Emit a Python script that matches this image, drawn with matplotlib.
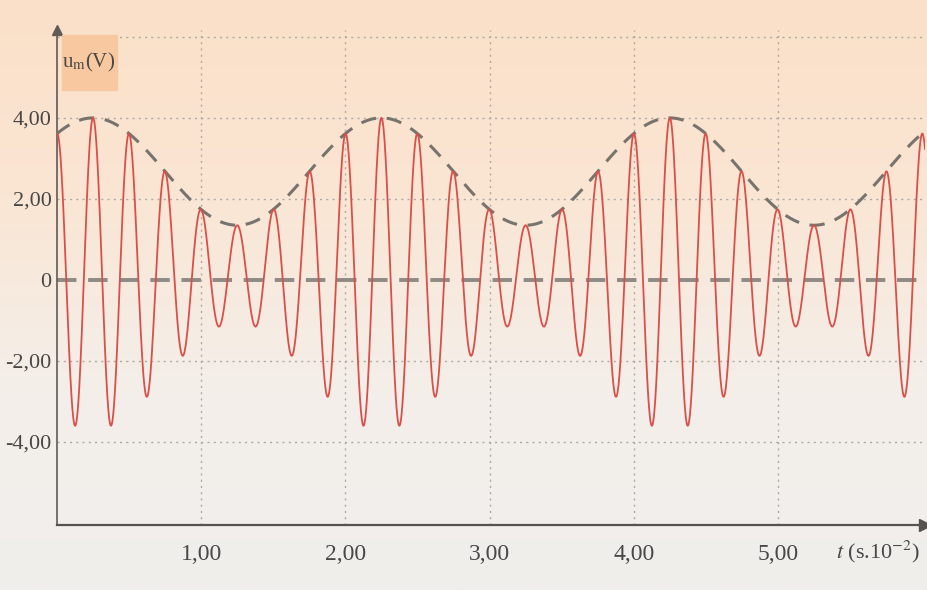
import numpy as np
import matplotlib
matplotlib.use('Agg')
import matplotlib.pyplot as plt
from matplotlib.colors import LinearSegmentedColormap
from matplotlib.patches import Rectangle

# values (t in 10^-2 s, u in V)
env_top = 4.00       # highest crest of the envelope
env_bottom = 1.35    # lowest crest of the envelope
u_offset = 0.15      # the trace sits slightly above zero
t_env_peak = 0.25    # first maximum of the envelope
T_env = 2.00         # period of the envelope
T_car = 0.25         # period of the carrier
t_end = 6.02

x_ticks = [1, 2, 3, 4, 5]
x_labels = ['1,00', '2,00', '3,00', '4,00', '5,00']
y_ticks = [-4, -2, 0, 2, 4]
y_labels = ['-4,00', '-2,00', '0', '2,00', '4,00']
y_grid = [-4, -2, 2, 4, 6]

plt.rcParams['font.family'] = ['Liberation Serif', 'DejaVu Serif']
plt.rcParams['mathtext.fontset'] = 'stix'

t = np.linspace(0, t_end, 3000)
amp = (env_top - env_bottom) / 2
mean = (env_top + env_bottom) / 2 - u_offset
envelope = mean + amp * np.cos(2 * np.pi * (t - t_env_peak) / T_env)
u_m = envelope * np.cos(2 * np.pi * t / T_car) + u_offset
upper = envelope + u_offset

fig = plt.figure(figsize=(9.28, 5.90), dpi=100)

# paper background, peach at the top fading to light grey
bg = fig.add_axes([0, 0, 1, 1], zorder=-1)
grad = np.linspace(0, 1, 256).reshape(-1, 1)
paper = LinearSegmentedColormap.from_list('paper', ['#fbe0c8', '#fae6d4', '#f4efea', '#f0eeec'])
bg.imshow(grad, aspect='auto', cmap=paper, extent=[0, 1, 0, 1])
bg.axis('off')

ax = fig.add_axes([57 / 928, 65 / 590, 868 / 928, 495 / 590])
ax.patch.set_alpha(0)
ax.set_xlim(0, t_end)
ax.set_ylim(-6.05, 6.17)

for x in x_ticks:
    ax.axvline(x, color='#b0aaa3', lw=1.0, ls=(0, (1.5, 3)), zorder=1)
for y in y_grid:
    ax.axhline(y, color='#b0aaa3', lw=1.0, ls=(0, (1.5, 3)), zorder=1)

ax.axhline(0, color='#8e8a84', lw=2.8, ls=(0, (5, 3)), zorder=2)
ax.plot(t, upper, color='#77736d', lw=2.2, ls=(0, (5, 3.5)), zorder=3)
ax.plot(t, u_m, color='#d9504a', lw=1.3, zorder=4)

for side in ['top', 'right']:
    ax.spines[side].set_visible(False)
ax.spines['left'].set_color('#5e5b58')
ax.spines['left'].set_linewidth(1.2)
ax.spines['bottom'].set_color('#555250')
ax.spines['bottom'].set_linewidth(1.6)
ax.plot(1, 0, '>', color='#555250', ms=8, transform=ax.transAxes, clip_on=False)
ax.plot(0, 1, '^', color='#5e5b58', ms=7, transform=ax.transAxes, clip_on=False)

ax.set_xticks(x_ticks)
ax.set_xticklabels(x_labels)
ax.set_yticks(y_ticks)
ax.set_yticklabels(y_labels)
ax.tick_params(axis='x', length=0, pad=14, labelsize=17, labelcolor='#4a4846')
ax.tick_params(axis='y', length=0, pad=4, labelsize=16, labelcolor='#4a4846')

fig.text(878 / 928, 1 - 552 / 590, r'$t$ (s.10$^{-2}$)', ha='center', va='center',
         fontsize=16, color='#4a4846')

fig.add_artist(Rectangle((62 / 928, 1 - 90 / 590), 55 / 928, 55 / 590,
                         transform=fig.transFigure, color='#f8c9a0', zorder=5))
fig.text(89 / 928, 1 - 62 / 590, r'u$_{\mathrm{m}}$(V)', ha='center', va='center',
         fontsize=15, color='#4a4846', zorder=6)

fig.savefig('out.png', dpi=100)
